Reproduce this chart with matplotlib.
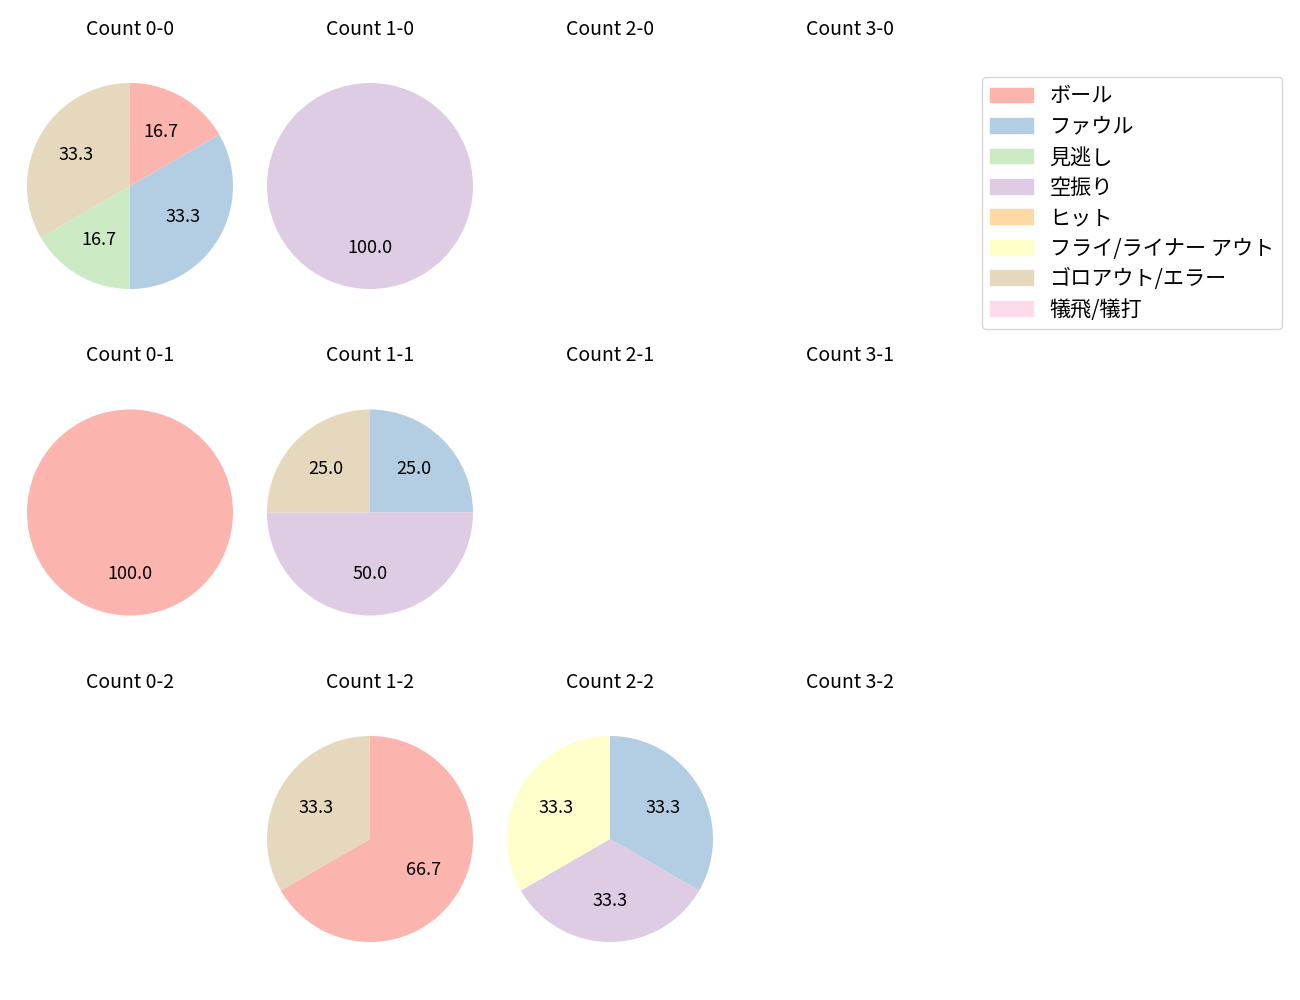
import matplotlib
matplotlib.use("Agg")
import matplotlib.pyplot as plt
from matplotlib.patches import Patch

plt.rcParams['font.family'] = ['Noto Sans CJK JP', 'DejaVu Sans']

categories = ['ボール', 'ファウル', '見逃し', '空振り', 'ヒット',
              'フライ/ライナー アウト', 'ゴロアウト/エラー', '犠飛/犠打']
colors = plt.cm.Pastel1.colors[:len(categories)]

balls = [0, 1, 2, 3]
strikes = [0, 1, 2]

# pitch results per count, in category order
counts = {
    (0, 0): [1, 2, 1, 0, 0, 0, 2, 0],
    (1, 0): [0, 0, 0, 1, 0, 0, 0, 0],
    (0, 1): [1, 0, 0, 0, 0, 0, 0, 0],
    (1, 1): [0, 1, 0, 2, 0, 0, 1, 0],
    (1, 2): [2, 0, 0, 0, 0, 0, 1, 0],
    (2, 2): [0, 1, 0, 1, 0, 1, 0, 0],
}

fig = plt.figure(figsize=(13, 10), dpi=100)

ax_w, ax_h = 240 / 1300, 280 / 1000
for s in strikes:
    for b in balls:
        cx = (130 + 240 * b) / 1300
        cy = 1 - (186 + 326.5 * s) / 1000
        ax = fig.add_axes([cx - ax_w / 2, cy - ax_h / 2, ax_w, ax_h])
        ax.set_title(f'Count {b}-{s}', fontsize=14, pad=8.2)
        ax.axis('off')
        vals = counts.get((b, s))
        if vals:
            v = [x for x in vals if x > 0]
            c = [colors[i] for i, x in enumerate(vals) if x > 0]
            ax.pie(v, colors=c, startangle=90, counterclock=False,
                   autopct='%.1f', textprops={'fontsize': 13})
        ax.set_aspect('equal', adjustable='datalim')
        ax.set_xlim(-120 / 103, 120 / 103)
        ax.set_ylim(-1.1, 1.1)

handles = [Patch(color=colors[i], label=lab) for i, lab in enumerate(categories)]
fig.legend(handles=handles, loc='upper left', bbox_to_anchor=(982 / 1300, 1 - 77 / 1000),
           fontsize=15.2, labelspacing=0.4, borderaxespad=0)

fig.savefig('out.png')
